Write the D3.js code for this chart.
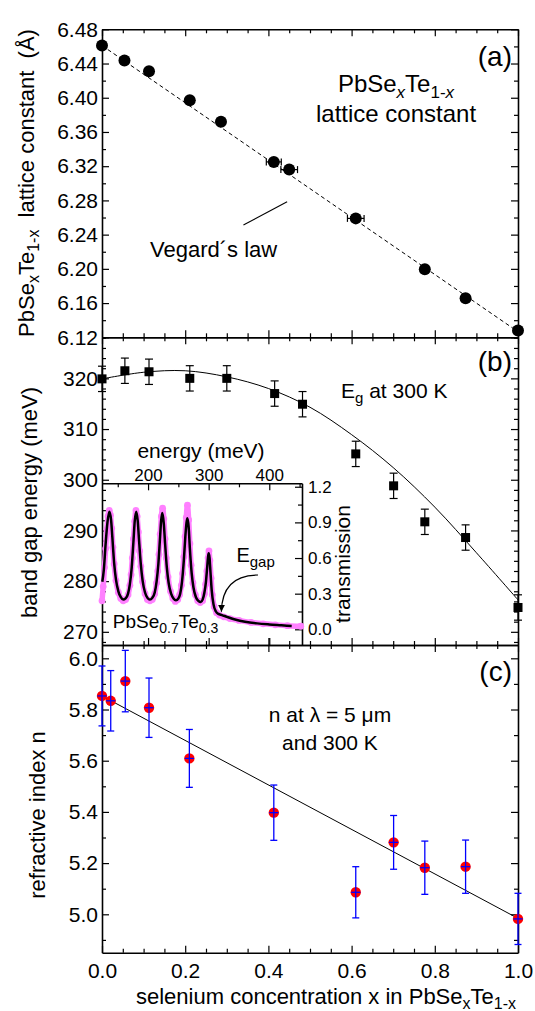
<!DOCTYPE html>
<html>
<head>
<meta charset="utf-8">
<script src="https://cdnjs.cloudflare.com/ajax/libs/d3/7.8.5/d3.min.js"></script>
<style>
body{margin:0;background:#fff;}
svg{display:block;}
</style>
</head>
<body>
<div id="chart-area"></div>
<script>
// ---- data ----
// (a) lattice constant
var latX   = [0, 0.054, 0.113, 0.211, 0.286, 0.413, 0.450, 0.610, 0.776, 0.874, 1.0];
var latY   = [6.461, 6.4435, 6.431, 6.397, 6.372, 6.325, 6.316, 6.259, 6.1995, 6.1656, 6.128];
var latErr = [0, 0, 0, 0, 0, 0.018, 0.02, 0.02, 0, 0, 0];
var vegX = [0, 1];
var vegY = [6.461, 6.1265];

// (b) band gap
var gapX   = [0, 0.055, 0.113, 0.211, 0.300, 0.415, 0.482, 0.610, 0.701, 0.776, 0.874, 1.0];
var gapY   = [319.9, 321.5, 321.3, 320.0, 320.0, 317.0, 314.9, 305.1, 298.8, 291.7, 288.6, 274.8];
var gapErr = [2.5, 2.5, 2.5, 2.5, 2.5, 2.5, 2.5, 2.5, 2.5, 2.5, 2.5, 2.5];
var gapFitX = [0, 0.1, 0.2, 0.3, 0.4, 0.5, 0.6, 0.7, 0.8, 0.9, 1.0];
var gapFitY = [319.9, 321.2, 321.5, 320.3, 318.0, 314.3, 308.9, 302.4, 294.6, 285.6, 276.3];

// inset: transmission spectrum (fit = black, measured = pink)
var fitE = [124.5,127,130,133,136,139,141,144,147,151,155,159,163,167,170,173,176,178,180.5,183,185,188,191,195,199,203,207,211,214,217,219.5,221.5,223.5,226,228,231,234,238,242,246,250,253,256,259,261.5,263.5,265,267,269,272,275,279,283,287,290,293,295.5,297.5,299,300,301.5,303,305,308,312,316,322,330,345,360,380,400,420,437];
var fitT = [0.40,0.50,0.72,0.90,0.99,0.92,0.78,0.56,0.42,0.32,0.27,0.25,0.26,0.30,0.38,0.52,0.75,0.91,0.99,0.91,0.76,0.55,0.41,0.31,0.265,0.25,0.265,0.31,0.40,0.55,0.75,0.91,0.98,0.89,0.73,0.52,0.39,0.30,0.26,0.245,0.26,0.30,0.40,0.58,0.78,0.90,0.935,0.86,0.68,0.47,0.35,0.27,0.24,0.23,0.25,0.31,0.40,0.52,0.61,0.64,0.60,0.48,0.33,0.21,0.15,0.13,0.12,0.105,0.08,0.064,0.05,0.041,0.034,0.028];
var measE = [124,126,128,130,132,134,136,138,140,142,144,147,151,155,159,163,167,170,172,174,176,178,180,182,184,186,188,191,195,199,203,207,211,214,216,218,220,222,224,226,228,230,233,237,241,245,249,252,255,257,259,261,263,265,267,269,271,274,278,282,286,290,293,295,297,299,300.5,302,304,306,309,313,318,325,335,350,370,390,410,430,452];
var measT = [0.24,0.36,0.52,0.68,0.84,0.95,1.00,0.96,0.85,0.69,0.55,0.41,0.31,0.26,0.24,0.25,0.29,0.37,0.46,0.60,0.76,0.91,1.00,0.95,0.82,0.66,0.53,0.40,0.30,0.25,0.24,0.25,0.30,0.39,0.49,0.63,0.80,0.95,1.02,0.93,0.76,0.60,0.44,0.32,0.26,0.235,0.25,0.29,0.37,0.47,0.61,0.78,0.94,1.045,0.92,0.72,0.54,0.39,0.29,0.24,0.225,0.24,0.30,0.38,0.49,0.60,0.66,0.58,0.43,0.29,0.19,0.14,0.12,0.105,0.09,0.075,0.058,0.046,0.038,0.031,0.026];

// (c) refractive index
var nX   = [0, 0.021, 0.056, 0.113, 0.210, 0.413, 0.610, 0.701, 0.776, 0.874, 1.0];
var nY   = [5.853, 5.834, 5.911, 5.807, 5.609, 5.397, 5.086, 5.281, 5.182, 5.186, 4.982];
var nErr = [0.117, 0.118, 0.12, 0.116, 0.113, 0.108, 0.10, 0.105, 0.104, 0.104, 0.10];
var nFitX = [0, 1];
var nFitY = [5.853, 4.984];

// tick labels
var xTickVals = [0, 0.2, 0.4, 0.6, 0.8, 1.0];
var aTickVals = [6.12, 6.16, 6.20, 6.24, 6.28, 6.32, 6.36, 6.40, 6.44, 6.48];
var bTickVals = [270, 280, 290, 300, 310, 320];
var cTickVals = [5.0, 5.2, 5.4, 5.6, 5.8, 6.0];
var eTickVals = [200, 300, 400];
var tTickVals = [0.0, 0.3, 0.6, 0.9, 1.2];

// ---- layout ----
var svgWidth = 535, svgHeight = 1011;
var left = 102, right = 518;
var aTop = 29.3, abMid = 337.3, bcMid = 645, cBot = 952.7;

var svg = d3.select('#chart-area')
            .append('svg')
            .attr('width', svgWidth)
            .attr('height', svgHeight)
            .attr('font-family', 'Liberation Sans, Arial, Helvetica, sans-serif');

var x  = d3.scaleLinear().domain([0, 1]).range([left, right]);
var yA = d3.scaleLinear().domain([6.12, 6.48]).range([abMid, aTop]);
var yB = d3.scaleLinear().domain([267.4, 328.1]).range([bcMid, abMid]);
var yC = d3.scaleLinear().domain([4.85, 6.052]).range([cBot, bcMid]);

var insRight = 302, insTop = 483.3;
var xE = d3.scaleLinear().domain([124, 454]).range([left, insRight]);
var yT = d3.scaleLinear().domain([-0.132, 1.229]).range([bcMid, insTop]);

function styleAxis(g, size) {
    g.attr('font-family', null).attr('font-size', size);
    g.selectAll('.domain').attr('stroke-width', 1.6);
    g.selectAll('.tick line').attr('stroke-width', 1.2);
    return g;
}
function noLabel() { return ''; }

function ticksG(axis, tx, ty, size) {
    var g = svg.append('g').attr('transform', 'translate(' + tx + ',' + ty + ')').call(axis);
    return styleAxis(g, size || 21);
}

var xMinor = d3.range(0.05, 1, 0.05).filter(function(v){ return Math.abs(v*5 - Math.round(v*5)) > 1e-6; });

// frame of one main panel: labelled left axis, mirrored right, inward x ticks top and bottom
function panelFrame(y, yTop, yBot, major, minor, fmt, xLabels) {
    ticksG(d3.axisLeft(y).tickValues(major).tickSize(-7).tickSizeOuter(0).tickPadding(4).tickFormat(fmt), left, 0);
    ticksG(d3.axisLeft(y).tickValues(minor).tickSize(-4).tickFormat(noLabel), left, 0).select('.domain').remove();
    ticksG(d3.axisRight(y).tickValues(major).tickSize(-7).tickSizeOuter(0).tickFormat(noLabel), right, 0);
    ticksG(d3.axisRight(y).tickValues(minor).tickSize(-4).tickFormat(noLabel), right, 0).select('.domain').remove();

    ticksG(d3.axisTop(x).tickValues(xTickVals).tickSize(-7).tickSizeOuter(0).tickFormat(noLabel), 0, yTop);
    ticksG(d3.axisTop(x).tickValues(xMinor).tickSize(-4).tickFormat(noLabel), 0, yTop).select('.domain').remove();
    ticksG(d3.axisBottom(x).tickValues(xTickVals).tickSize(-7).tickSizeOuter(0).tickPadding(10)
              .tickFormat(xLabels ? d3.format('.1f') : noLabel), 0, yBot);
    ticksG(d3.axisBottom(x).tickValues(xMinor).tickSize(-4).tickFormat(noLabel), 0, yBot).select('.domain').remove();
}

// text with sub-scripts: parts = [text, isSub, italic]
function rich(sel, parts, subSize, drop) {
    var shift = 0;
    parts.forEach(function(p) {
        var t = sel.append('tspan').text(p[0]);
        var target = p[1] ? drop : 0;
        if (target !== shift) { t.attr('dy', target - shift); shift = target; }
        if (p[1]) t.attr('font-size', subSize);
        if (p[2]) t.attr('font-style', 'italic');
    });
    return sel;
}

// ================= panel (a) =================
panelFrame(yA, aTop, abMid, aTickVals, d3.range(6.14, 6.48, 0.04), d3.format('.2f'), false);

svg.append('path')
   .datum(vegX)
   .attr('d', d3.line().x(function(d){ return x(d); }).y(function(d,i){ return yA(vegY[i]); }))
   .attr('fill', 'none').attr('stroke', '#000').attr('stroke-width', 1)
   .attr('stroke-dasharray', '4,3');

var aBars = svg.append('g').selectAll('g').data(latX).enter()
   .filter(function(d,i){ return latErr[i] > 0; })
   .append('g').attr('stroke', '#000').attr('stroke-width', 1.2);
aBars.append('line')
   .attr('x1', function(d){ return x(d - latErr[latX.indexOf(d)]); })
   .attr('x2', function(d){ return x(d + latErr[latX.indexOf(d)]); })
   .attr('y1', function(d){ return yA(latY[latX.indexOf(d)]); })
   .attr('y2', function(d){ return yA(latY[latX.indexOf(d)]); });
[-1, 1].forEach(function(s) {
    aBars.append('line')
       .attr('x1', function(d){ return x(d + s*latErr[latX.indexOf(d)]); })
       .attr('x2', function(d){ return x(d + s*latErr[latX.indexOf(d)]); })
       .attr('y1', function(d){ return yA(latY[latX.indexOf(d)]) - 3.5; })
       .attr('y2', function(d){ return yA(latY[latX.indexOf(d)]) + 3.5; });
});

svg.append('g').selectAll('circle').data(latX).enter()
   .append('circle')
   .attr('cx', function(d){ return x(d); })
   .attr('cy', function(d,i){ return yA(latY[i]); })
   .attr('r', 6)
   .attr('fill', '#000');

svg.append('line')
   .attr('x1', x(0.34)).attr('y1', yA(6.2513))
   .attr('x2', x(0.445)).attr('y2', yA(6.2785))
   .attr('stroke', '#000').attr('stroke-width', 1.1);

svg.append('text').attr('x', 150).attr('y', 257).attr('font-size', 22).text('Vegard\u00b4s law');
svg.append('text').attr('x', 512).attr('y', 66).attr('font-size', 28).attr('text-anchor', 'end').text('(a)');
rich(svg.append('text').attr('x', 396).attr('y', 91.7).attr('font-size', 24).attr('text-anchor', 'middle'),
     [['PbSe', false], ['x', true, true], ['Te', false], ['1-', true], ['x', true, true]], 17, 6);
svg.append('text').attr('x', 396).attr('y', 121.7).attr('font-size', 24).attr('text-anchor', 'middle').text('lattice constant');

rich(svg.append('text').attr('transform', 'translate(33.5,183) rotate(-90)')
        .attr('font-size', 22).attr('text-anchor', 'middle').style('white-space', 'pre'),
     [['PbSe', false], ['x', true], ['Te', false], ['1-x', true], ['  lattice constant  (\u00c5)', false]], 16, 5);

// ================= panel (b) =================
panelFrame(yB, abMid, bcMid, bTickVals, d3.range(268, 329, 2).filter(function(v){ return v % 10 !== 0; }), d3.format('d'), false);

svg.append('path')
   .datum(gapFitX)
   .attr('d', d3.line().curve(d3.curveCatmullRom).x(function(d){ return x(d); }).y(function(d,i){ return yB(gapFitY[i]); }))
   .attr('fill', 'none').attr('stroke', '#000').attr('stroke-width', 1);

var bBars = svg.append('g').attr('stroke', '#000').attr('stroke-width', 1.2)
   .selectAll('g').data(gapX).enter().append('g');
bBars.append('line')
   .attr('x1', function(d){ return x(d); }).attr('x2', function(d){ return x(d); })
   .attr('y1', function(d,i){ return yB(gapY[i] - gapErr[i]); })
   .attr('y2', function(d,i){ return yB(gapY[i] + gapErr[i]); });
[-1, 1].forEach(function(s) {
    bBars.append('line')
       .attr('x1', function(d){ return x(d) - 4; }).attr('x2', function(d){ return x(d) + 4; })
       .attr('y1', function(d,i){ return yB(gapY[i] + s*gapErr[i]); })
       .attr('y2', function(d,i){ return yB(gapY[i] + s*gapErr[i]); });
});
svg.append('g').selectAll('rect').data(gapX).enter()
   .append('rect')
   .attr('x', function(d){ return x(d) - 4.5; })
   .attr('y', function(d,i){ return yB(gapY[i]) - 4.5; })
   .attr('width', 9).attr('height', 9)
   .attr('fill', '#000');

svg.append('text').attr('x', 512).attr('y', 371).attr('font-size', 28).attr('text-anchor', 'end').text('(b)');
rich(svg.append('text').attr('x', 341).attr('y', 398).attr('font-size', 21).style('white-space', 'pre'),
     [['E', false], ['g', true], [' at 300 K', false]], 15, 5);

svg.append('text').attr('transform', 'translate(36.7,502.5) rotate(-90)')
   .attr('font-size', 22).attr('text-anchor', 'middle').text('band gap energy (meV)');

// ---- inset ----
ticksG(d3.axisTop(xE).tickValues(eTickVals).tickSize(-7).tickSizeOuter(0).tickPadding(2).tickFormat(d3.format('d')), 0, insTop, 17);
ticksG(d3.axisTop(xE).tickValues([150, 250, 350, 450]).tickSize(-4).tickFormat(noLabel), 0, insTop).select('.domain').remove();
ticksG(d3.axisBottom(xE).tickValues(eTickVals).tickSize(-7).tickFormat(noLabel), 0, bcMid).select('.domain').remove();
ticksG(d3.axisRight(yT).tickValues(tTickVals).tickSize(-7).tickSizeOuter(0).tickPadding(6).tickFormat(d3.format('.1f')), insRight, 0, 17);
ticksG(d3.axisRight(yT).tickValues([0.15, 0.45, 0.75, 1.05]).tickSize(-4).tickFormat(noLabel), insRight, 0).select('.domain').remove();

var pink = '#ff80ff';
svg.append('path')
   .datum(measE)
   .attr('d', d3.line().curve(d3.curveMonotoneX).x(function(d){ return xE(d); }).y(function(d,i){ return yT(measT[i]); }))
   .attr('fill', 'none').attr('stroke', pink).attr('stroke-width', 5.5)
   .attr('stroke-linejoin', 'round').attr('stroke-linecap', 'round');
svg.append('g').selectAll('circle').data(measE).enter()
   .append('circle')
   .attr('cx', function(d){ return xE(d); })
   .attr('cy', function(d,i){ return yT(measT[i]); })
   .attr('r', 3.4)
   .attr('fill', pink);
svg.append('path')
   .datum(fitE)
   .attr('d', d3.line().curve(d3.curveMonotoneX).x(function(d){ return xE(d); }).y(function(d,i){ return yT(fitT[i]); }))
   .attr('fill', 'none').attr('stroke', '#000').attr('stroke-width', 2.5)
   .attr('stroke-linejoin', 'round');

svg.append('defs').append('marker')
   .attr('id', 'arr').attr('viewBox', '0 0 10 10').attr('refX', 10).attr('refY', 5)
   .attr('markerWidth', 7).attr('markerHeight', 9).attr('markerUnits', 'userSpaceOnUse').attr('orient', 'auto')
   .append('path').attr('d', 'M0,0 L10,5 L0,10 z').attr('fill', '#000');
svg.append('path')
   .attr('d', 'M' + xE(381.5) + ',' + yT(0.457) + ' Q' + xE(322) + ',' + yT(0.457) + ' ' + xE(321) + ',' + yT(0.148))
   .attr('fill', 'none').attr('stroke', '#000').attr('stroke-width', 1.2)
   .attr('marker-end', 'url(#arr)');

rich(svg.append('text').attr('x', xE(345.8)).attr('y', yT(0.569)).attr('font-size', 20),
     [['E', false], ['gap', true]], 15, 5);
rich(svg.append('text').attr('x', xE(141.8)).attr('y', yT(0.008)).attr('font-size', 19),
     [['PbSe', false], ['0.7', true], ['Te', false], ['0.3', true]], 14, 5);

svg.append('text').attr('x', 201).attr('y', 458).attr('font-size', 21).attr('text-anchor', 'middle').text('energy (meV)');
svg.append('text').attr('transform', 'translate(349.5,564) rotate(-90)')
   .attr('font-size', 21).attr('text-anchor', 'middle').text('transmission');

// ================= panel (c) =================
panelFrame(yC, bcMid, cBot, cTickVals, [4.9, 5.1, 5.3, 5.5, 5.7, 5.9], d3.format('.1f'), true);

svg.append('path')
   .datum(nFitX)
   .attr('d', d3.line().x(function(d){ return x(d); }).y(function(d,i){ return yC(nFitY[i]); }))
   .attr('fill', 'none').attr('stroke', '#000').attr('stroke-width', 1);

svg.append('g').selectAll('circle').data(nX).enter()
   .append('circle')
   .attr('cx', function(d){ return x(d); })
   .attr('cy', function(d,i){ return yC(nY[i]); })
   .attr('r', 5.2)
   .attr('fill', '#ff0000');

var cBars = svg.append('g').attr('stroke', '#0000ff').attr('stroke-width', 1.3)
   .selectAll('g').data(nX).enter().append('g');
cBars.append('line')
   .attr('x1', function(d){ return x(d); }).attr('x2', function(d){ return x(d); })
   .attr('y1', function(d,i){ return yC(nY[i] - nErr[i]); })
   .attr('y2', function(d,i){ return yC(nY[i] + nErr[i]); });
cBars.append('line')
   .attr('x1', function(d){ return x(d - 0.011); }).attr('x2', function(d){ return x(d + 0.011); })
   .attr('y1', function(d,i){ return yC(nY[i]); })
   .attr('y2', function(d,i){ return yC(nY[i]); });
[-1, 1].forEach(function(s) {
    cBars.append('line')
       .attr('x1', function(d){ return x(d) - 3.5; }).attr('x2', function(d){ return x(d) + 3.5; })
       .attr('y1', function(d,i){ return yC(nY[i] + s*nErr[i]); })
       .attr('y2', function(d,i){ return yC(nY[i] + s*nErr[i]); });
});

svg.append('text').attr('x', 512).attr('y', 681).attr('font-size', 28).attr('text-anchor', 'end').text('(c)');
svg.append('text').attr('x', 330).attr('y', 721.7).attr('font-size', 21).attr('text-anchor', 'middle').text('n at \u03bb = 5 \u03bcm');
svg.append('text').attr('x', 330).attr('y', 750).attr('font-size', 21).attr('text-anchor', 'middle').text('and 300 K');

svg.append('text').attr('transform', 'translate(45,815) rotate(-90)')
   .attr('font-size', 22).attr('text-anchor', 'middle').text('refractive index n');

rich(svg.append('text').attr('x', 136).attr('y', 1004).attr('font-size', 22),
     [['selenium concentration x in PbSe', false], ['x', true], ['Te', false], ['1-x', true]], 16, 5);
</script>
</body>
</html>
